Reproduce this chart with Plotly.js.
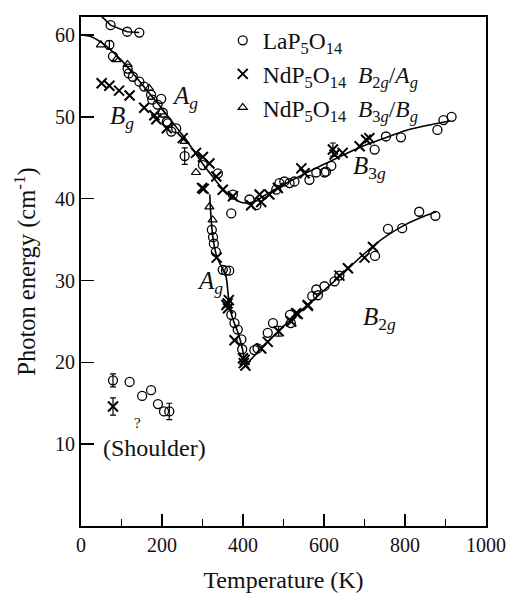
<!DOCTYPE html>
<html>
<head>
<meta charset="utf-8">
<script src="https://cdn.plot.ly/plotly-3.0.1.min.js"></script>
<style>html,body{margin:0;padding:0;background:#fff;}#chart{width:512px;height:599px;}</style>
</head>
<body>
<div id="chart"></div>
<script>
// LaP5O14 (open circles)
const laX = [73,114,144, 79,115,118,128,144,156,173,176,198,189,202,212,214,223,235,301,338,375,371,416,433,
  482,490,502,515,527,564,581,601,605,618,725,753,790,880,895,915,
  323,326,328,333,350,358,366,371,379,387,396,398,
  428,436,461,474,516,518,571,585,581,601,626,638,726,758,793,835,875,
  120,151,173,190,205];
const laY = [61.2,60.4,60.3, 57.4,55.9,55.3,54.9,54.3,53.7,52.7,52.1,52.2,51.5,50.5,49.4,49.2,48.2,48.6,44.1,43.1,40.5,38.2,39.9,39.2,
  41.1,41.9,42.1,41.9,42.1,42.3,43.2,43.2,43.3,44.0,46.0,47.6,47.5,48.4,49.6,50.0,
  36.2,35.3,34.5,33.5,31.3,31.2,31.2,25.8,24.8,24.0,22.8,21.6,
  21.5,21.7,23.6,24.8,25.8,24.8,28.1,28.2,28.9,29.3,29.9,30.6,33.0,36.3,36.4,38.4,37.9,
  17.6,15.9,16.6,14.9,14.0];
// LaP5O14 points carrying error bars
const laEX = [70,256,79,218];
const laEY = [58.8,45.2,17.8,14.0];
const laEV = [0.5,1.0,0.8,1.0];

// NdP5O14 B2g/Ag (crosses)
const ndaX = [51,70,94,120,156,181,186,212,251,284,301,317,334,350,375,299,303,
  420,445,465,486,441,544,552,626,646,688,704,712,
  335,359,362,365,363,379,400,404,406,402,
  445,461,519,531,535,560,560,638,659,700,721];
const ndaY = [54.1,53.8,53.2,52.6,51.1,50.2,49.7,48.6,47.4,45.6,45.1,44.3,42.7,41.1,40.3,41.3,41.2,
  39.2,39.6,40.5,41.3,40.5,43.7,43.1,45.4,45.6,46.4,47.2,47.4,
  32.8,27.0,27.2,27.6,26.6,22.7,20.5,20.3,19.6,19.9,
  21.7,22.5,25.0,26.0,25.9,26.9,27.0,30.6,31.5,32.8,34.1];
// NdP5O14 B2g/Ag points carrying error bars
const ndaEX = [622,488,79];
const ndaEY = [46.0,23.8,14.6];
const ndaEV = [0.8,0.6,1.05];

// NdP5O14 B3g/Bg (open triangles)
const ndbX = [49,87,115,168,197,256,284,317,325];
const ndbY = [58.8,57.0,56.4,53.5,50.6,47.0,43.2,39.0,37.4];

// Fitted guide lines
const fitTopX = [48,73,114,144];
const fitTopY = [62.4,61.2,60.4,60.3];
const fitUpX = [0,25,50,75,100,125,150,175,200,225,250,275,300,325,350,375,400,425,450,500,550,600,650,700,750,800,850,910];
const fitUpY = [60,59.8,59.1,58.1,56.9,55.5,54.0,52.5,51.0,49.4,47.8,46.1,44.3,42.7,41.2,40.1,39.5,39.6,40.3,41.7,43.0,44.2,45.4,46.5,47.4,48.3,48.9,49.5];
const fitLowX = [318,320,323,328,336,348,358,363,368,377,387,396,402,406,450,500,550,600,650,700,750,800,850,877];
const fitLowY = [40.5,38.5,36.5,34.5,32.8,31.6,30.5,28.5,26.5,25.0,23.7,22.2,20.8,19.8,22.0,24.4,26.6,28.8,31.0,33.3,35.3,36.8,37.9,38.4];

const xTicks = [0,200,400,600,800,1000];
const yTicks = [10,20,30,40,50,60];

const FONT = 'Liberation Serif, Times New Roman, serif';
const lineStyle = {color:'#000', width:1.6};
const circleMarker = {symbol:'circle-open', size:9, color:'#000', line:{width:1.3, color:'#000'}};
const crossMarker = {symbol:'x-thin-open', size:10, color:'#000', line:{width:2, color:'#000'}};
const errStyle = {type:'data', visible:true, color:'#000', thickness:1.2, width:3};

const traces = [
  {x:fitTopX, y:fitTopY, mode:'lines', line:lineStyle, showlegend:false, hoverinfo:'skip'},
  {x:fitUpX, y:fitUpY, mode:'lines', line:Object.assign({shape:'spline'}, lineStyle), showlegend:false, hoverinfo:'skip'},
  {x:fitLowX, y:fitLowY, mode:'lines', line:Object.assign({shape:'spline', smoothing:0.8}, lineStyle), showlegend:false, hoverinfo:'skip'},
  {x:laX, y:laY, mode:'markers', name:'LaP<sub>5</sub>O<sub>14</sub>', marker:circleMarker},
  {x:laEX, y:laEY, mode:'markers', showlegend:false, marker:circleMarker, error_y:Object.assign({array:laEV}, errStyle)},
  {x:ndaX, y:ndaY, mode:'markers', name:'NdP<sub>5</sub>O<sub>14</sub>  <i>B</i><sub>2<i>g</i></sub>/<i>A</i><sub><i>g</i></sub>', marker:crossMarker},
  {x:ndaEX, y:ndaEY, mode:'markers', showlegend:false, marker:crossMarker, error_y:Object.assign({array:ndaEV}, errStyle)},
  {x:ndbX, y:ndbY, mode:'markers', name:'NdP<sub>5</sub>O<sub>14</sub>  <i>B</i><sub>3<i>g</i></sub>/<i>B</i><sub><i>g</i></sub>',
   marker:{symbol:'triangle-up-open', size:8, color:'#000', line:{width:1.2, color:'#000'}}}
];

const annFont = {family:FONT, size:25, color:'#111'};
const layout = {
  width:512, height:599,
  margin:{l:81, r:26, t:17, b:73},
  paper_bgcolor:'#fff', plot_bgcolor:'#fff',
  font:{family:FONT, size:20, color:'#111'},
  showlegend:true,
  legend:{x:0.35, y:0.997, xanchor:'left', yanchor:'top', bgcolor:'rgba(0,0,0,0)', font:{family:FONT, size:23.5, color:'#111'}, tracegroupgap:0, itemwidth:30},
  xaxis:{range:[0,1000], tickvals:xTicks, ticks:'inside', ticklen:12, tickwidth:1.5, tickcolor:'#000',
    minor:{dtick:100, ticks:'inside', ticklen:7, tickwidth:1.5, tickcolor:'#000'},
    showline:true, linewidth:2, linecolor:'#000', mirror:true, showgrid:false, zeroline:false,
    tickfont:{family:FONT, size:20, color:'#111'},
    title:{text:'Temperature (K)', font:{family:FONT, size:24, color:'#111'}, standoff:16}},
  yaxis:{range:[0,62.2], tickvals:yTicks, ticks:'inside', ticklen:13, tickwidth:1.5, tickcolor:'#000',
    showline:true, linewidth:2, linecolor:'#000', mirror:true, showgrid:false, zeroline:false,
    tickfont:{family:FONT, size:20, color:'#111'},
    title:{text:'Photon energy (cm<sup>-1</sup>)', font:{family:FONT, size:24.5, color:'#111'}, standoff:12}},
  annotations:[
    {x:256, y:52.4, text:'<i>A</i><sub><i>g</i></sub>', showarrow:false, font:annFont},
    {x:102, y:49.9, text:'<i>B</i><sub><i>g</i></sub>', showarrow:false, font:annFont},
    {x:318, y:29.8, text:'<i>A</i><sub><i>g</i></sub>', showarrow:false, font:annFont},
    {x:712, y:43.8, text:'<i>B</i><sub>3<i>g</i></sub>', showarrow:false, font:annFont},
    {x:737, y:25.4, text:'<i>B</i><sub>2<i>g</i></sub>', showarrow:false, font:annFont},
    {x:181, y:9.5, text:'(Shoulder)', showarrow:false, font:{family:FONT, size:24, color:'#111'}},
    {x:140, y:12.6, text:'?', showarrow:false, font:{family:FONT, size:15, color:'#111'}}
  ]
};

Plotly.newPlot('chart', traces, layout, {displayModeBar:false, staticPlot:true});
</script>
</body>
</html>
